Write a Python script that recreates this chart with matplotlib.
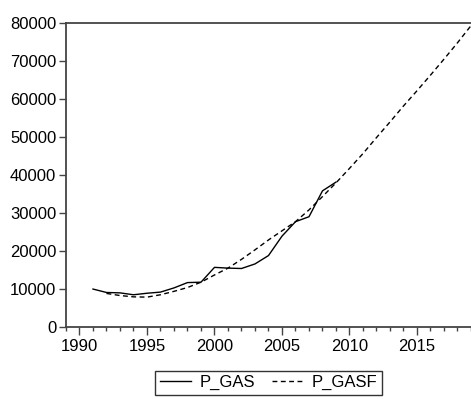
import matplotlib
matplotlib.use("Agg")
import matplotlib.pyplot as plt
from matplotlib.ticker import MultipleLocator

# gas price, actual and fitted/forecast series
years_gas = list(range(1991, 2010))
p_gas = [10100, 9200, 9100, 8600, 9000, 9300, 10400, 11800, 11900, 15800,
         15600, 15500, 16700, 18900, 24000, 27800, 29100, 35900, 38200]

years_gasf = list(range(1992, 2020))
p_gasf = [8950, 8400, 8050, 7980, 8600, 9500, 10500, 11900, 13800, 15600,
          17900, 20400, 23000, 25400, 27800, 30900, 34400, 38000, 41800,
          45700, 49900, 54000, 58200, 62200, 66300, 70500, 74800, 79300]

plt.rcParams['font.family'] = ['Liberation Sans', 'DejaVu Sans']

fig = plt.figure(figsize=(4.71, 3.99), dpi=100)
ax = fig.add_axes([0.1401, 0.1792, 0.8599, 0.7632])

ax.plot(years_gas, p_gas, color='black', lw=1.0, label='P_GAS')
ax.plot(years_gasf, p_gasf, color='black', lw=1.0, ls=(0, (3.5, 2.5)), label='P_GASF')

ax.set_xlim(1989, 2019)
ax.set_ylim(0, 80000)
ax.xaxis.set_major_locator(MultipleLocator(5))
ax.xaxis.set_minor_locator(MultipleLocator(1))
ax.yaxis.set_major_locator(MultipleLocator(10000))

ax.spines['right'].set_visible(False)
for s in ['left', 'top', 'bottom']:
    ax.spines[s].set_color('#444444')
    ax.spines[s].set_linewidth(1.3)

ax.tick_params(axis='both', which='major', direction='out', length=5, width=1,
               color='#444444', labelsize=12, pad=2)
ax.tick_params(axis='x', which='minor', direction='out', length=3, width=1,
               color='#444444')
ax.tick_params(axis='x', which='major', length=6)

leg = fig.legend(loc='upper center', bbox_to_anchor=(0.57, 0.07), ncol=2,
                 frameon=True, fancybox=False, fontsize=12, handlelength=1.9,
                 handletextpad=0.5, columnspacing=1.0, borderpad=0.25,
                 borderaxespad=0)
leg.get_frame().set_edgecolor('black')
leg.get_frame().set_linewidth(1.0)

fig.savefig('out.png', dpi=100)
